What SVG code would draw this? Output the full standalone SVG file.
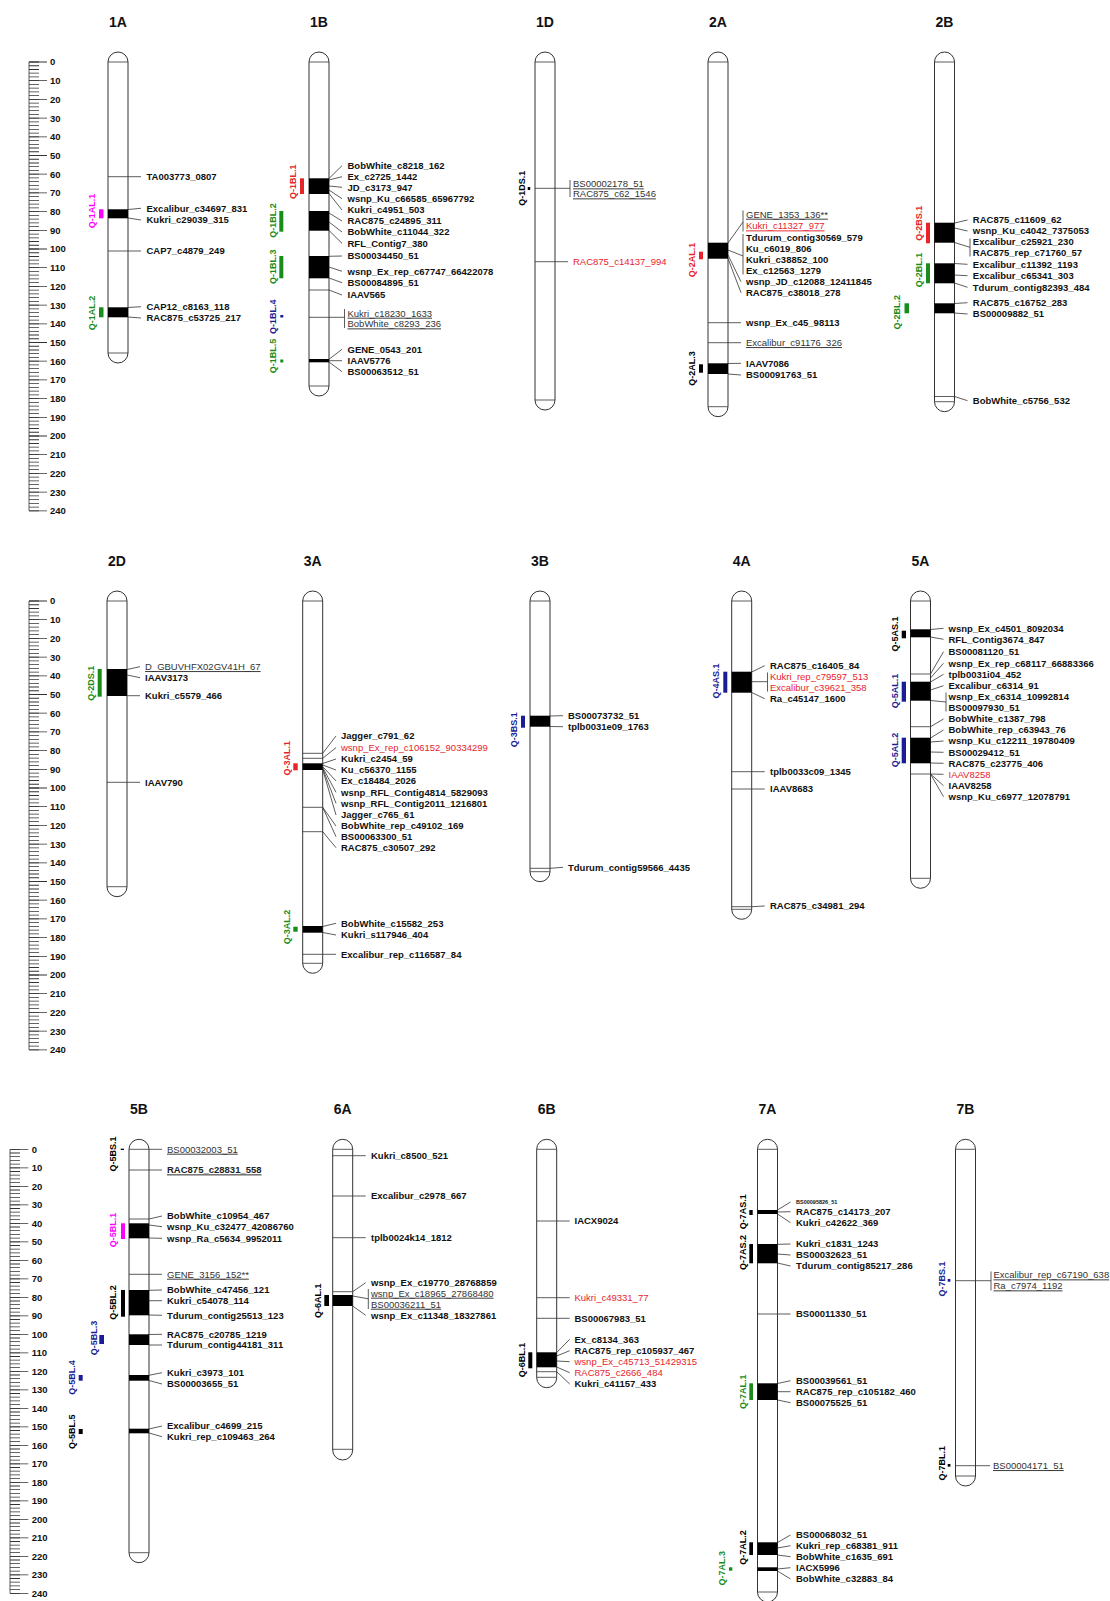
<svg xmlns="http://www.w3.org/2000/svg" width="1110" height="1601" viewBox="0 0 1110 1601">
<style>
text{font-family:"Liberation Sans",Arial,sans-serif}
.t{font-size:9.5px;font-weight:bold;fill:#111}
.u{font-size:9.5px;fill:#333;text-decoration:underline}
.ub{font-size:9.5px;font-weight:bold;fill:#222;text-decoration:underline}
.r{font-size:9.5px;fill:#e8232a}
.ru{font-size:9.5px;fill:#e8232a;text-decoration:underline}
.h{font-size:14px;font-weight:bold;text-anchor:middle;fill:#111}
.q{font-size:9px;font-weight:bold;text-anchor:middle}
.c{fill:#fff;stroke:#333;stroke-width:1}
.k{stroke:#333;stroke-width:0.8;fill:none}
.qr{fill:#e8232a}.qm{fill:#f0f}.qg{fill:#1a8c1a}.qb{fill:#1c1c96}.qk{fill:#000}
</style>
<rect width="1110" height="1601" fill="#fff"/>

<!-- scales -->
<g id="scale-1">
<line x1="29" y1="62" x2="29" y2="510.8" stroke="#333" stroke-width="0.8"/>
<line x1="34" y1="61.6" x2="34" y2="511.6" stroke="#333" stroke-width="10" stroke-dasharray="0.8 2.94"/>
<line x1="38" y1="61.6" x2="38" y2="511.6" stroke="#333" stroke-width="18" stroke-dasharray="0.8 17.9"/>
<text class="t" x="50" y="65.4">0</text><text class="t" x="50" y="84.1">10</text><text class="t" x="50" y="102.8">20</text><text class="t" x="50" y="121.5">30</text><text class="t" x="50" y="140.2">40</text><text class="t" x="50" y="158.9">50</text><text class="t" x="50" y="177.6">60</text><text class="t" x="50" y="196.3">70</text><text class="t" x="50" y="215">80</text><text class="t" x="50" y="233.7">90</text><text class="t" x="50" y="252.4">100</text><text class="t" x="50" y="271.1">110</text><text class="t" x="50" y="289.8">120</text><text class="t" x="50" y="308.5">130</text><text class="t" x="50" y="327.2">140</text><text class="t" x="50" y="345.9">150</text><text class="t" x="50" y="364.6">160</text><text class="t" x="50" y="383.3">170</text><text class="t" x="50" y="402">180</text><text class="t" x="50" y="420.7">190</text><text class="t" x="50" y="439.4">200</text><text class="t" x="50" y="458.1">210</text><text class="t" x="50" y="476.8">220</text><text class="t" x="50" y="495.5">230</text><text class="t" x="50" y="514.2">240</text>
</g>
<g id="scale-2">
<line x1="29" y1="601" x2="29" y2="1049.8" stroke="#333" stroke-width="0.8"/>
<line x1="34" y1="600.6" x2="34" y2="1050.6" stroke="#333" stroke-width="10" stroke-dasharray="0.8 2.94"/>
<line x1="38" y1="600.6" x2="38" y2="1050.6" stroke="#333" stroke-width="18" stroke-dasharray="0.8 17.9"/>
<text class="t" x="50" y="604.4">0</text><text class="t" x="50" y="623.1">10</text><text class="t" x="50" y="641.8">20</text><text class="t" x="50" y="660.5">30</text><text class="t" x="50" y="679.2">40</text><text class="t" x="50" y="697.9">50</text><text class="t" x="50" y="716.6">60</text><text class="t" x="50" y="735.3">70</text><text class="t" x="50" y="754">80</text><text class="t" x="50" y="772.7">90</text><text class="t" x="50" y="791.4">100</text><text class="t" x="50" y="810.1">110</text><text class="t" x="50" y="828.8">120</text><text class="t" x="50" y="847.5">130</text><text class="t" x="50" y="866.2">140</text><text class="t" x="50" y="884.9">150</text><text class="t" x="50" y="903.6">160</text><text class="t" x="50" y="922.3">170</text><text class="t" x="50" y="941">180</text><text class="t" x="50" y="959.7">190</text><text class="t" x="50" y="978.4">200</text><text class="t" x="50" y="997.1">210</text><text class="t" x="50" y="1015.8">220</text><text class="t" x="50" y="1034.5">230</text><text class="t" x="50" y="1053.2">240</text>
</g>
<g id="scale-3">
<line x1="10" y1="1149.3" x2="10" y2="1593.3" stroke="#333" stroke-width="0.8"/>
<line x1="15" y1="1148.9" x2="15" y2="1594" stroke="#333" stroke-width="10" stroke-dasharray="0.8 2.9"/>
<line x1="19.15" y1="1148.9" x2="19.15" y2="1594" stroke="#333" stroke-width="18.3" stroke-dasharray="0.8 17.7"/>
<text class="t" x="31.7" y="1152.7">0</text><text class="t" x="31.7" y="1171.2">10</text><text class="t" x="31.7" y="1189.7">20</text><text class="t" x="31.7" y="1208.2">30</text><text class="t" x="31.7" y="1226.7">40</text><text class="t" x="31.7" y="1245.2">50</text><text class="t" x="31.7" y="1263.7">60</text><text class="t" x="31.7" y="1282.2">70</text><text class="t" x="31.7" y="1300.7">80</text><text class="t" x="31.7" y="1319.2">90</text><text class="t" x="31.7" y="1337.7">100</text><text class="t" x="31.7" y="1356.2">110</text><text class="t" x="31.7" y="1374.7">120</text><text class="t" x="31.7" y="1393.2">130</text><text class="t" x="31.7" y="1411.7">140</text><text class="t" x="31.7" y="1430.2">150</text><text class="t" x="31.7" y="1448.7">160</text><text class="t" x="31.7" y="1467.2">170</text><text class="t" x="31.7" y="1485.7">180</text><text class="t" x="31.7" y="1504.2">190</text><text class="t" x="31.7" y="1522.7">200</text><text class="t" x="31.7" y="1541.2">210</text><text class="t" x="31.7" y="1559.7">220</text><text class="t" x="31.7" y="1578.2">230</text><text class="t" x="31.7" y="1596.7">240</text>
</g>

<!-- connectors -->
<g id="connectors" class="k">
<path d="M128,176.7H141M128,209.5L141,208.3M128,218L141,220M128,251H141M128,307.5L141,306.7M128,317L141,318"/>
<path d="M329,178.5L342,165.7M329,180L342,176.7M329,186L342,187.3M329,190L342,198.7M329,193.5L342,210M329,213L342,221M329,222L342,232M329,230.5L342,243.3M329,256.3L342,256M329,267L342,271.3M329,278L342,282.7M329,290L342,295M329,317.3H344.5M344.5,309V328M329,359.3L342,349.3M329,360.7L342,360.7M329,362L342,371.7"/>
<path d="M555,188.3H570M570,180V197M555,261.7H568"/>
<path d="M728,243L743,222M743,210.5V231.5M728,250L743,256M743,234V274.5M728,255L741,281.7M728,258.5L741,292.7M728,322.7H741M728,342.7H741M728,363.5L741,363.3M728,374L741,375"/>
<path d="M954.5,223L967.5,220M954.5,228L967.5,231M954.5,242.5L970,247.3M970,238.5V256.5M954.5,263.5L967.5,264.3M954.5,275L967.5,275.7M954.5,283L967.5,287.3M954.5,303.5L967.5,302.7M954.5,313L967.5,314M954.5,396.5L967.5,400.7"/>
<path d="M127,669.5L140,666.7M127,675L140,677.7M127,695.7H140M127,782.3H140"/>
<path d="M322.7,753.3L336,736M322.7,758.3L336,747.7M322.7,763.5L336,759M322.7,765L336,770M322.7,766.5L336,781M322.7,767.5L336,792.3M322.7,768.5L336,803.3M322.7,769.5L336,815M322.7,807.3L336,826M322.7,807.3L336,836.7M322.7,831.7L336,847.7M322.7,926.5L336,923.3M322.7,932.5L336,935M322.7,954.3H336"/>
<path d="M550,716L563,715.7M550,726.5L563,726.7M550,868.3L563,867.3"/>
<path d="M751.7,672L764.7,665.7M751.7,681.7H767.5M767.5,672.5V691.5M751.7,692.5L764.7,698.7M751.7,771.7H764.7M751.7,789H764.7M751.7,906.7L764.7,906"/>
<path d="M930.5,629.5L943.5,628.3M930.5,637L943.5,639.3M930.5,674L943.5,651.7M930.5,678L943.5,663.3M930.5,682L943.5,674.3M930.5,690L943.5,685.7M930.5,700.5L946,702M946,692.5V711.5M930.5,726.7L943.5,719M930.5,738L943.5,730M930.5,742L943.5,741M930.5,752L943.5,752.3M930.5,763L943.5,763.3M930.5,774L943.5,774.3M930.5,774L943.5,785.7M930.5,774L943.5,796.7"/>
<path d="M149,1149.3H162M149,1170H162M149,1219L162,1216M149,1225L162,1226.7M149,1238L162,1238.3M149,1274.3H162M149,1290.3L162,1290M149,1300.7H162M149,1315L162,1315.3M149,1334.5L162,1334.3M149,1345H162M149,1375.3L162,1372.7M149,1380.5L162,1384M149,1429L162,1426M149,1433L162,1436.7"/>
<path d="M352.7,1155.7H365.7M352.7,1196H365.7M352.7,1237.7H365.7M352.7,1291.7L365.7,1282.7M352.7,1296L368.3,1298.8M368.3,1289V1309M352.7,1306L365.7,1315.3"/>
<path d="M556.7,1221H569.7M556.7,1297.7H569.7M556.7,1318.3H569.7M556.7,1352.5L569.7,1339.3M556.7,1356L569.7,1350.7M556.7,1361L569.7,1361.7M556.7,1367L569.7,1372.7M556.7,1371.7L569.7,1384"/>
<path d="M777.5,1210L790.5,1202M777.5,1212L790.5,1211.7M777.5,1214L790.5,1222.7M777.5,1244.3L790.5,1244M777.5,1254L790.5,1255M777.5,1263L790.5,1266M777.5,1314H790.5M777.5,1383.5L790.5,1380.7M777.5,1391.7H790.5M777.5,1400L790.5,1402.7M777.5,1542.5L790.5,1535M777.5,1548L790.5,1545.7M777.5,1555L790.5,1556.7M777.5,1569L790.5,1567.7M777.5,1571L790.5,1579"/>
<path d="M975.5,1280.7H991M991,1271.5V1290.5M975.5,1465.7H990"/>
</g>

<!-- 1A -->
<g id="chr-1A">
<text class="h" x="118" y="27">1A</text>
<rect class="c" x="108" y="52" width="20" height="311" rx="10"/>
<path class="k" d="M108,62H128M108,353H128M108,176.7H128M108,251H128"/>
<rect x="108" y="209.3" width="20" height="9"/><rect x="108" y="307.3" width="20" height="10"/>
<rect class="qm" x="99" y="209.3" width="4.5" height="9"/><text class="q qm" transform="translate(94.5,211) rotate(-90)">Q-1AL.1</text>
<rect class="qg" x="99" y="307.3" width="4.5" height="10"/><text class="q qg" transform="translate(94.5,313) rotate(-90)">Q-1AL.2</text>
<text class="t" x="146.5" y="180.1">TA003773_0807</text>
<text class="t" x="146.5" y="211.7">Excalibur_c34697_831</text>
<text class="t" x="146.5" y="223.4">Kukri_c29039_315</text>
<text class="t" x="146.5" y="254.4">CAP7_c4879_249</text>
<text class="t" x="146.5" y="310.1">CAP12_c8163_118</text>
<text class="t" x="146.5" y="321.4">RAC875_c53725_217</text>
</g>

<!-- 1B -->
<g id="chr-1B">
<text class="h" x="319" y="27">1B</text>
<rect class="c" x="309" y="52" width="20" height="344" rx="10"/>
<path class="k" d="M309,62H329M309,386H329M309,290H329M309,317.3H329"/>
<rect x="309" y="178.3" width="20" height="15.7"/><rect x="309" y="211" width="20" height="19.7"/><rect x="309" y="256" width="20" height="22.3"/><rect x="309" y="359" width="20" height="3.3"/>
<rect class="qr" x="300" y="178.3" width="4" height="15.7"/><text class="q qr" transform="translate(296.3,181.7) rotate(-90)">Q-1BL.1</text>
<rect class="qg" x="279.3" y="211" width="4" height="20.7"/><text class="q qg" transform="translate(275.7,220.5) rotate(-90)">Q-1BL.2</text>
<rect class="qg" x="279.3" y="256" width="4" height="22.3"/><text class="q qg" transform="translate(275.7,266.7) rotate(-90)">Q-1BL.3</text>
<rect class="qb" x="280.3" y="315" width="3" height="2.5"/><text class="q qb" transform="translate(275.7,316.7) rotate(-90)">Q-1BL.4</text>
<rect class="qg" x="280.3" y="359.5" width="3" height="3"/><text class="q qg" transform="translate(275.7,356) rotate(-90)">Q-1BL.5</text>
<text class="t" x="347.5" y="169.1">BobWhite_c8218_162</text>
<text class="t" x="347.5" y="180.1">Ex_c2725_1442</text>
<text class="t" x="347.5" y="190.7">JD_c3173_947</text>
<text class="t" x="347.5" y="202.1">wsnp_Ku_c66585_65967792</text>
<text class="t" x="347.5" y="213.4">Kukri_c4951_503</text>
<text class="t" x="347.5" y="224.4">RAC875_c24895_311</text>
<text class="t" x="347.5" y="235.4">BobWhite_c11044_322</text>
<text class="t" x="347.5" y="246.7">RFL_Contig7_380</text>
<text class="t" x="347.5" y="259.4">BS00034450_51</text>
<text class="t" x="347.5" y="274.7">wsnp_Ex_rep_c67747_66422078</text>
<text class="t" x="347.5" y="286.1">BS00084895_51</text>
<text class="t" x="347.5" y="298.4">IAAV565</text>
<text class="u" x="347.5" y="316.7">Kukri_c18230_1633</text>
<text class="u" x="347.5" y="327.4">BobWhite_c8293_236</text>
<text class="t" x="347.5" y="352.7">GENE_0543_201</text>
<text class="t" x="347.5" y="364.1">IAAV5776</text>
<text class="t" x="347.5" y="375.1">BS00063512_51</text>
</g>

<!-- 1D -->
<g id="chr-1D">
<text class="h" x="545" y="27">1D</text>
<rect class="c" x="535" y="52" width="20" height="358" rx="10"/>
<path class="k" d="M535,62H555M535,400H555M535,188.3H555M535,261.7H555"/>
<rect class="qk" x="527.7" y="187" width="2.5" height="3"/><text class="q qk" transform="translate(524.7,188.3) rotate(-90)">Q-1DS.1</text>
<text class="u" x="573" y="187.4">BS00002178_51</text>
<text class="u" x="573" y="197.4">RAC875_c62_1546</text>
<text class="r" x="573" y="265.1">RAC875_c14137_994</text>
</g>

<!-- 2A -->
<g id="chr-2A">
<text class="h" x="718" y="27">2A</text>
<rect class="c" x="708" y="52" width="20" height="364.7" rx="10"/>
<path class="k" d="M708,62H728M708,406.7H728M708,322.7H728M708,342.7H728"/>
<rect x="708" y="242.7" width="20" height="16"/><rect x="708" y="363.3" width="20" height="10.7"/>
<rect class="qr" x="699" y="251.7" width="4" height="7.6"/><text class="q qr" transform="translate(694.7,260) rotate(-90)">Q-2AL.1</text>
<rect class="qk" x="699" y="364.3" width="4" height="8.4"/><text class="q qk" transform="translate(694.7,368.5) rotate(-90)">Q-2AL.3</text>
<text class="u" x="746" y="217.7">GENE_1353_136**</text>
<text class="ru" x="746" y="229.4">Kukri_c11327_977</text>
<text class="t" x="746" y="240.7">Tdurum_contig30569_579</text>
<text class="t" x="746" y="252.4">Ku_c6019_806</text>
<text class="t" x="746" y="263.4">Kukri_c38852_100</text>
<text class="t" x="746" y="274.1">Ex_c12563_1279</text>
<text class="t" x="746" y="285.1">wsnp_JD_c12088_12411845</text>
<text class="t" x="746" y="296.1">RAC875_c38018_278</text>
<text class="t" x="746" y="326.1">wsnp_Ex_c45_98113</text>
<text class="u" x="746" y="346.1">Excalibur_c91176_326</text>
<text class="t" x="746" y="366.7">IAAV7086</text>
<text class="t" x="746" y="378.4">BS00091763_51</text>
</g>

<!-- 2B -->
<g id="chr-2B">
<text class="h" x="944.5" y="27">2B</text>
<rect class="c" x="934.5" y="52" width="20" height="359.7" rx="10"/>
<path class="k" d="M934.5,62H954.5M934.5,401.7H954.5M934.5,396.5H954.5"/>
<rect x="934.5" y="222.7" width="20" height="20"/><rect x="934.5" y="263.3" width="20" height="20"/><rect x="934.5" y="303.3" width="20" height="10"/>
<rect class="qr" x="926" y="222.7" width="4" height="20.6"/><text class="q qr" transform="translate(922.3,223.3) rotate(-90)">Q-2BS.1</text>
<rect class="qg" x="926" y="263.3" width="4" height="20"/><text class="q qg" transform="translate(922.3,270) rotate(-90)">Q-2BL.1</text>
<rect class="qg" x="904.5" y="303.3" width="4.5" height="10"/><text class="q qg" transform="translate(900.3,312.3) rotate(-90)">Q-2BL.2</text>
<text class="t" x="972.8" y="223.4">RAC875_c11609_62</text>
<text class="t" x="972.8" y="234.4">wsnp_Ku_c4042_7375053</text>
<text class="t" x="972.8" y="245.4">Excalibur_c25921_230</text>
<text class="t" x="972.8" y="256.1">RAC875_rep_c71760_57</text>
<text class="t" x="972.8" y="267.7">Excalibur_c11392_1193</text>
<text class="t" x="972.8" y="279.1">Excalibur_c65341_303</text>
<text class="t" x="972.8" y="290.7">Tdurum_contig82393_484</text>
<text class="t" x="972.8" y="306.1">RAC875_c16752_283</text>
<text class="t" x="972.8" y="317.4">BS00009882_51</text>
<text class="t" x="972.8" y="404.1">BobWhite_c5756_532</text>
</g>

<!-- 2D -->
<g id="chr-2D">
<text class="h" x="117" y="565.7">2D</text>
<rect class="c" x="107" y="591" width="20" height="305.7" rx="10"/>
<path class="k" d="M107,601H127M107,886.7H127M107,782.3H127"/>
<rect x="107" y="669" width="20" height="27"/>
<rect class="qg" x="97.7" y="669" width="4" height="27.7"/><text class="q qg" transform="translate(93.7,683.3) rotate(-90)">Q-2DS.1</text>
<text class="u" x="145" y="670.1">D_GBUVHFX02GV41H_67</text>
<text class="t" x="145" y="681.1">IAAV3173</text>
<text class="t" x="145" y="699.1">Kukri_c5579_466</text>
<text class="t" x="145" y="785.7">IAAV790</text>
</g>

<!-- 3A -->
<g id="chr-3A">
<text class="h" x="312.7" y="565.7">3A</text>
<rect class="c" x="302.7" y="591" width="20" height="382.3" rx="10"/>
<path class="k" d="M302.7,601H322.7M302.7,963.3H322.7M302.7,753.3H322.7M302.7,758.3H322.7M302.7,807.3H322.7M302.7,831.7H322.7M302.7,954.3H322.7"/>
<rect x="302.7" y="763.3" width="20" height="6.7"/><rect x="302.7" y="926" width="20" height="6.7"/>
<rect class="qr" x="293.3" y="763.3" width="4.4" height="7"/><text class="q qr" transform="translate(289.7,758.3) rotate(-90)">Q-3AL.1</text>
<rect class="qg" x="293.3" y="926.7" width="4.4" height="5"/><text class="q qg" transform="translate(289.7,927) rotate(-90)">Q-3AL.2</text>
<text class="t" x="341" y="739.4">Jagger_c791_62</text>
<text class="r" x="341" y="751.1">wsnp_Ex_rep_c106152_90334299</text>
<text class="t" x="341" y="762.4">Kukri_c2454_59</text>
<text class="t" x="341" y="773.4">Ku_c56370_1155</text>
<text class="t" x="341" y="784.4">Ex_c18484_2026</text>
<text class="t" x="341" y="795.7">wsnp_RFL_Contig4814_5829093</text>
<text class="t" x="341" y="806.7">wsnp_RFL_Contig2011_1216801</text>
<text class="t" x="341" y="818.4">Jagger_c765_61</text>
<text class="t" x="341" y="829.4">BobWhite_rep_c49102_169</text>
<text class="t" x="341" y="840.1">BS00063300_51</text>
<text class="t" x="341" y="851.1">RAC875_c30507_292</text>
<text class="t" x="341" y="926.7">BobWhite_c15582_253</text>
<text class="t" x="341" y="938.4">Kukri_s117946_404</text>
<text class="t" x="341" y="957.7">Excalibur_rep_c116587_84</text>
</g>

<!-- 3B -->
<g id="chr-3B">
<text class="h" x="540" y="565.7">3B</text>
<rect class="c" x="530" y="591" width="20" height="290.7" rx="10"/>
<path class="k" d="M530,601H550M530,871.7H550M530,868.3H550"/>
<rect x="530" y="715.7" width="20" height="11"/>
<rect class="qb" x="521" y="715.7" width="4" height="12"/><text class="q qb" transform="translate(517.3,729.7) rotate(-90)">Q-3BS.1</text>
<text class="t" x="568" y="719.1">BS00073732_51</text>
<text class="t" x="568" y="730.1">tplb0031e09_1763</text>
<text class="t" x="568" y="870.7">Tdurum_contig59566_4435</text>
</g>

<!-- 4A -->
<g id="chr-4A">
<text class="h" x="741.7" y="565.7">4A</text>
<rect class="c" x="731.7" y="591" width="20" height="328.3" rx="10"/>
<path class="k" d="M731.7,601H751.7M731.7,909.3H751.7M731.7,771.7H751.7M731.7,789H751.7M731.7,906.7H751.7"/>
<rect x="731.7" y="671.7" width="20" height="21"/>
<rect class="qb" x="723.3" y="671.7" width="4" height="21"/><text class="q qb" transform="translate(719,681) rotate(-90)">Q-4AS.1</text>
<text class="t" x="770" y="669.1">RAC875_c16405_84</text>
<text class="r" x="770" y="680.1">Kukri_rep_c79597_513</text>
<text class="r" x="770" y="690.7">Excalibur_c39621_358</text>
<text class="t" x="770" y="702.1">Ra_c45147_1600</text>
<text class="t" x="770" y="775.1">tplb0033c09_1345</text>
<text class="t" x="770" y="792.4">IAAV8683</text>
<text class="t" x="770" y="909.4">RAC875_c34981_294</text>
</g>

<!-- 5A -->
<g id="chr-5A">
<text class="h" x="920.5" y="565.7">5A</text>
<rect class="c" x="910.5" y="591" width="20" height="297.3" rx="10"/>
<path class="k" d="M910.5,601H930.5M910.5,878.3H930.5M910.5,674H930.5M910.5,726.7H930.5M910.5,774H930.5"/>
<rect x="910.5" y="629.3" width="20" height="8"/><rect x="910.5" y="681.7" width="20" height="19"/><rect x="910.5" y="737.7" width="20" height="25.6"/>
<rect class="qk" x="901.7" y="630.7" width="4.3" height="7.6"/><text class="q qk" transform="translate(898,634) rotate(-90)">Q-5AS.1</text>
<rect class="qb" x="901.7" y="681.7" width="4.3" height="20"/><text class="q qb" transform="translate(898,691) rotate(-90)">Q-5AL.1</text>
<rect class="qb" x="901.7" y="737.7" width="4.3" height="25.6"/><text class="q qb" transform="translate(898,750) rotate(-90)">Q-5AL.2</text>
<text class="t" x="948.5" y="631.7">wsnp_Ex_c4501_8092034</text>
<text class="t" x="948.5" y="642.7">RFL_Contig3674_847</text>
<text class="t" x="948.5" y="655.1">BS00081120_51</text>
<text class="t" x="948.5" y="666.7">wsnp_Ex_rep_c68117_66883366</text>
<text class="t" x="948.5" y="677.7">tplb0031i04_452</text>
<text class="t" x="948.5" y="689.1">Excalibur_c6314_91</text>
<text class="t" x="948.5" y="700.1">wsnp_Ex_c6314_10992814</text>
<text class="t" x="948.5" y="711.1">BS00097930_51</text>
<text class="t" x="948.5" y="722.4">BobWhite_c1387_798</text>
<text class="t" x="948.5" y="733.4">BobWhite_rep_c63943_76</text>
<text class="t" x="948.5" y="744.4">wsnp_Ku_c12211_19780409</text>
<text class="t" x="948.5" y="755.7">BS00029412_51</text>
<text class="t" x="948.5" y="766.7">RAC875_c23775_406</text>
<text class="r" x="948.5" y="777.7">IAAV8258</text>
<text class="t" x="948.5" y="789.1">IAAV8258</text>
<text class="t" x="948.5" y="800.1">wsnp_Ku_c6977_12078791</text>
</g>

<!-- 5B -->
<g id="chr-5B">
<text class="h" x="139" y="1114">5B</text>
<rect class="c" x="129" y="1139.3" width="20" height="423.4" rx="10"/>
<path class="k" d="M129,1149.3H149M129,1552.7H149M129,1170H149M129,1219H149M129,1274.3H149"/>
<rect x="129" y="1223.3" width="20" height="15"/><rect x="129" y="1290" width="20" height="25.3"/><rect x="129" y="1334.3" width="20" height="10.7"/><rect x="129" y="1375" width="20" height="5.7"/><rect x="129" y="1428.7" width="20" height="4.6"/>
<rect class="qk" x="120.7" y="1148.7" width="3.3" height="1.3"/><text class="q qk" transform="translate(116.3,1154) rotate(-90)">Q-5BS.1</text>
<rect class="qm" x="121" y="1223.3" width="4" height="15.7"/><text class="q qm" transform="translate(116.3,1230) rotate(-90)">Q-5BL.1</text>
<rect class="qk" x="121" y="1290" width="4" height="26.7"/><text class="q qk" transform="translate(116.3,1302.5) rotate(-90)">Q-5BL.2</text>
<rect class="qb" x="99.3" y="1335" width="4.7" height="9"/><text class="q qb" transform="translate(97,1338) rotate(-90)">Q-5BL.3</text>
<rect class="qb" x="78.7" y="1375" width="4" height="5.7"/><text class="q qb" transform="translate(74.7,1377.5) rotate(-90)">Q-5BL.4</text>
<rect class="qk" x="78.7" y="1429" width="4" height="5"/><text class="q qk" transform="translate(74.7,1431.7) rotate(-90)">Q-5BL.5</text>
<text class="u" x="167" y="1152.7">BS00032003_51</text>
<text class="ub" x="167" y="1173.4">RAC875_c28831_558</text>
<text class="t" x="167" y="1219.4">BobWhite_c10954_467</text>
<text class="t" x="167" y="1230.1">wsnp_Ku_c32477_42086760</text>
<text class="t" x="167" y="1241.7">wsnp_Ra_c5634_9952011</text>
<text class="u" x="167" y="1277.7">GENE_3156_152**</text>
<text class="t" x="167" y="1293.4">BobWhite_c47456_121</text>
<text class="t" x="167" y="1304.1">Kukri_c54078_114</text>
<text class="t" x="167" y="1318.7">Tdurum_contig25513_123</text>
<text class="t" x="167" y="1337.7">RAC875_c20785_1219</text>
<text class="t" x="167" y="1348.4">Tdurum_contig44181_311</text>
<text class="t" x="167" y="1376.1">Kukri_c3973_101</text>
<text class="t" x="167" y="1387.4">BS00003655_51</text>
<text class="t" x="167" y="1429.4">Excalibur_c4699_215</text>
<text class="t" x="167" y="1440.1">Kukri_rep_c109463_264</text>
</g>

<!-- 6A -->
<g id="chr-6A">
<text class="h" x="342.7" y="1114">6A</text>
<rect class="c" x="332.7" y="1139.3" width="20" height="320.7" rx="10"/>
<path class="k" d="M332.7,1149.3H352.7M332.7,1449.3H352.7M332.7,1155.7H352.7M332.7,1196H352.7M332.7,1237.7H352.7M332.7,1291.7H352.7"/>
<rect x="332.7" y="1295" width="20" height="11"/>
<rect class="qk" x="324.3" y="1295" width="4.7" height="11"/><text class="q qk" transform="translate(321.3,1300.8) rotate(-90)">Q-6AL.1</text>
<text class="t" x="371" y="1159.1">Kukri_c8500_521</text>
<text class="t" x="371" y="1199.4">Excalibur_c2978_667</text>
<text class="t" x="371" y="1241.1">tplb0024k14_1812</text>
<text class="t" x="371" y="1286.1">wsnp_Ex_c19770_28768859</text>
<text class="u" x="371" y="1296.7">wsnp_Ex_c18965_27868480</text>
<text class="u" x="371" y="1307.7">BS00036211_51</text>
<text class="t" x="371" y="1318.7">wsnp_Ex_c11348_18327861</text>
</g>

<!-- 6B -->
<g id="chr-6B">
<text class="h" x="546.7" y="1114">6B</text>
<rect class="c" x="536.7" y="1139.3" width="20" height="248.4" rx="10"/>
<path class="k" d="M536.7,1149.3H556.7M536.7,1377.3H556.7M536.7,1221H556.7M536.7,1297.7H556.7M536.7,1318.3H556.7M536.7,1371.7H556.7"/>
<rect x="536.7" y="1352.3" width="20" height="15"/>
<rect class="qk" x="528.3" y="1352.3" width="4" height="16"/><text class="q qk" transform="translate(524.7,1360) rotate(-90)">Q-6BL.1</text>
<text class="t" x="574.5" y="1224.4">IACX9024</text>
<text class="r" x="574.5" y="1301.1">Kukri_c49331_77</text>
<text class="t" x="574.5" y="1321.7">BS00067983_51</text>
<text class="t" x="574.5" y="1342.7">Ex_c8134_363</text>
<text class="t" x="574.5" y="1354.1">RAC875_rep_c105937_467</text>
<text class="r" x="574.5" y="1365.1">wsnp_Ex_c45713_51429315</text>
<text class="r" x="574.5" y="1376.1">RAC875_c2666_484</text>
<text class="t" x="574.5" y="1387.4">Kukri_c41157_433</text>
</g>

<!-- 7A -->
<g id="chr-7A">
<text class="h" x="767.5" y="1114">7A</text>
<rect class="c" x="757.5" y="1139.3" width="20" height="462.7" rx="10"/>
<path class="k" d="M757.5,1149.3H777.5M757.5,1592H777.5M757.5,1314H777.5"/>
<rect x="757.5" y="1210" width="20" height="4"/><rect x="757.5" y="1244" width="20" height="19.3"/><rect x="757.5" y="1383.3" width="20" height="16.7"/><rect x="757.5" y="1542.3" width="20" height="12.7"/><rect x="757.5" y="1567.3" width="20" height="3.7"/>
<rect class="qk" x="749.3" y="1210" width="3.4" height="5"/><text class="q qk" transform="translate(746.3,1211.7) rotate(-90)">Q-7AS.1</text>
<rect class="qk" x="749.3" y="1244" width="3.7" height="19.3"/><text class="q qk" transform="translate(746.3,1252.5) rotate(-90)">Q-7AS.2</text>
<rect class="qg" x="749.3" y="1383.3" width="3.7" height="16.7"/><text class="q qg" transform="translate(746.3,1391.7) rotate(-90)">Q-7AL.1</text>
<rect class="qk" x="749.3" y="1542.3" width="3.7" height="12.7"/><text class="q qk" transform="translate(746.3,1547.5) rotate(-90)">Q-7AL.2</text>
<rect class="qg" x="729" y="1567.3" width="3.3" height="3.4"/><text class="q qg" transform="translate(725.3,1568.3) rotate(-90)">Q-7AL.3</text>
<text class="t" x="796" y="1203.7" style="font-size:5.5px">BS00095826_51</text>
<text class="t" x="796" y="1215.1">RAC875_c14173_207</text>
<text class="t" x="796" y="1226.1">Kukri_c42622_369</text>
<text class="t" x="796" y="1247.4">Kukri_c1831_1243</text>
<text class="t" x="796" y="1258.4">BS00032623_51</text>
<text class="t" x="796" y="1269.4">Tdurum_contig85217_286</text>
<text class="t" x="796" y="1317.4">BS00011330_51</text>
<text class="t" x="796" y="1384.1">BS00039561_51</text>
<text class="t" x="796" y="1395.1">RAC875_rep_c105182_460</text>
<text class="t" x="796" y="1406.1">BS00075525_51</text>
<text class="t" x="796" y="1538.4">BS00068032_51</text>
<text class="t" x="796" y="1549.1">Kukri_rep_c68381_911</text>
<text class="t" x="796" y="1560.1">BobWhite_c1635_691</text>
<text class="t" x="796" y="1571.1">IACX5996</text>
<text class="t" x="796" y="1582.4">BobWhite_c32883_84</text>
</g>

<!-- 7B -->
<g id="chr-7B">
<text class="h" x="965.5" y="1114">7B</text>
<rect class="c" x="955.5" y="1139.3" width="20" height="346.7" rx="10"/>
<path class="k" d="M955.5,1149.3H975.5M955.5,1476H975.5M955.5,1280.7H975.5M955.5,1465.7H975.5"/>
<rect class="qb" x="947.7" y="1279" width="2.7" height="2.7"/><text class="q qb" transform="translate(944.7,1279) rotate(-90)">Q-7BS.1</text>
<rect class="qk" x="947.7" y="1464" width="2.7" height="2.7"/><text class="q qk" transform="translate(944.7,1463.3) rotate(-90)">Q-7BL.1</text>
<text class="u" x="993.5" y="1278.4">Excalibur_rep_c67190_638</text>
<text class="u" x="993.5" y="1289.4">Ra_c7974_1192</text>
<text class="u" x="993" y="1469.1">BS00004171_51</text>
</g>
</svg>
